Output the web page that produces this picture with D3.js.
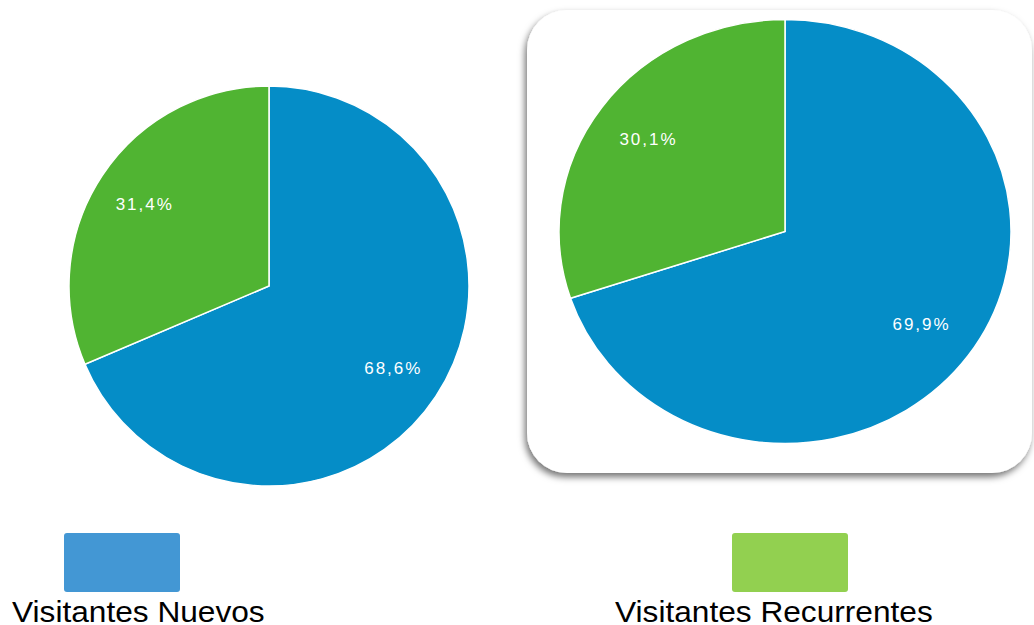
<!DOCTYPE html>
<html>
<head>
<meta charset="utf-8">
<script src="https://cdn.jsdelivr.net/npm/d3@7"></script>
<style>
  body { margin: 0; background: #fff; }
  svg { display: block; }
</style>
</head>
<body>
<svg id="chart" width="1034" height="625"></svg>
<script>
// Data
var categories = ["Visitantes Nuevos", "Visitantes Recurrentes"];
var pieLeftValues = [68.6, 31.4];
var pieRightValues = [69.9, 30.1];
var sliceColors = ["#058dc7", "#50b432"];
var legendColors = ["#4397d4", "#92d050"];

var svg = d3.select("#chart");

// skygge til boksen
var defs = svg.append("defs");
var shadow = defs.append("filter").attr("id", "boxShadow")
    .attr("x", "-10%").attr("y", "-10%").attr("width", "120%").attr("height", "120%");
shadow.append("feDropShadow")
    .attr("dx", -2).attr("dy", 4)
    .attr("stdDeviation", 3.5)
    .attr("flood-color", "#000")
    .attr("flood-opacity", 0.55);

// hvid boks med runde hjørner bag højre pie
svg.append("rect")
    .attr("x", 527).attr("y", 10)
    .attr("width", 505).attr("height", 463)
    .attr("rx", 40).attr("ry", 40)
    .attr("fill", "#fff")
    .attr("filter", "url(#boxShadow)");

var pie = d3.pie().sort(null).value(function(d) { return d; });
var color = d3.scaleOrdinal().domain(categories).range(sliceColors);

// sy = lodret skalering (højre pie er lidt strakt i bredden)
function drawPie(values, cx, cy, r, sy) {
    var arc = d3.arc().innerRadius(0).outerRadius(r);
    var labelArc = d3.arc().innerRadius(r * 0.745).outerRadius(r * 0.745);
    var g = svg.append("g").attr("transform", "translate(" + cx + "," + cy + ")");
    var arcs = pie(values);
    g.append("g")
        .attr("transform", "scale(1," + sy + ")")
        .selectAll("path")
        .data(arcs)
        .enter().append("path")
        .attr("d", arc)
        .attr("fill", function(d, i) { return color(categories[i]); })
        .attr("stroke", "#fff")
        .attr("stroke-width", 1.5)
        .attr("vector-effect", "non-scaling-stroke");
    g.selectAll("text")
        .data(arcs)
        .enter().append("text")
        .attr("transform", function(d) {
            var c = labelArc.centroid(d);
            return "translate(" + c[0] + "," + (c[1] * sy) + ")";
        })
        .attr("text-anchor", "middle")
        .attr("dy", "0.35em")
        .style("font-family", "Arial, 'Liberation Sans', sans-serif")
        .style("font-size", "17px")
        .style("letter-spacing", "2px")
        .attr("fill", "#fff")
        .text(function(d) { return d3.format(".1f")(d.data).replace(".", ",") + "%"; });
}

drawPie(pieLeftValues, 269, 286, 200, 1);
drawPie(pieRightValues, 785, 231.5, 226, 212 / 226);

// legende
var legendX = [64, 732];
var legendTextX = [12, 615];
categories.forEach(function(c, i) {
    svg.append("rect")
        .attr("x", legendX[i]).attr("y", 533)
        .attr("width", 116).attr("height", 59)
        .attr("rx", 3)
        .attr("fill", legendColors[i]);
    svg.append("text")
        .attr("transform", "translate(" + legendTextX[i] + ",622) scale(1.055,1)")
        .style("font-family", "Arial, 'Liberation Sans', sans-serif")
        .style("font-size", "30px")
        .attr("fill", "#000")
        .text(c);
});
</script>
</body>
</html>
